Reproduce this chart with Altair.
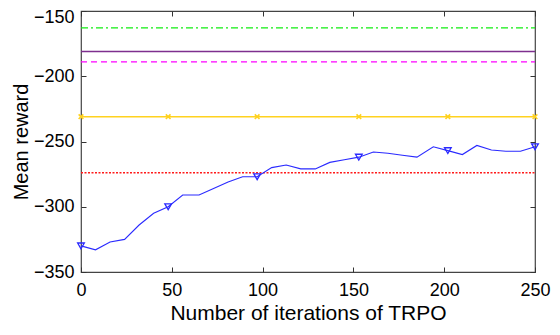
import altair as alt
import pandas as pd

# Blue learning curve (TRPO iterations vs mean reward)
iters = [0, 8, 16, 24, 32, 40, 48, 56, 65, 73, 81, 89, 97, 105, 113, 121,
         129, 137, 145, 153, 161, 169, 177, 185, 194, 202, 210, 218, 226, 234, 242, 250]
reward = [-330, -333, -327, -325, -314, -305, -300, -291, -291, -286, -281, -277,
          -277, -270, -268, -271, -271, -266, -264, -262, -258, -259, -260.5, -262,
          -254, -257, -260, -253, -256.5, -257.5, -257.5, -254]
marker_iters = [0, 48, 97, 153, 202, 250]

# Constant baselines
base_names = ["green", "purple", "magenta", "yellow", "red"]
base_values = [-163, -181, -189, -231, -274]
base_colors = ["#11ee11", "#7e2f8e", "#ff00ff", "#ffd21f", "#ff1a1a"]
base_dash = [[7, 3, 2, 3], [1, 0], [6, 4], [1, 0], [2, 1.5]]
base_width = [1.2, 1.6, 1.4, 1.6, 1.4]

x_ticks = [0, 50, 100, 150, 200, 250]
y_ticks = [-350, -300, -250, -200, -150]

FONT = "Liberation Sans"
xs = alt.Scale(domain=[0, 250], nice=False, zero=False)
ys = alt.Scale(domain=[-350, -150], nice=False, zero=False)

curve = pd.DataFrame({"x": iters, "y": reward})
markers = curve[curve["x"].isin(marker_iters)]

layers = []

# baselines
for n, v, c, d, w in zip(base_names, base_values, base_colors, base_dash, base_width):
    df = pd.DataFrame({"x": [0, 250], "y": [v, v]})
    layers.append(
        alt.Chart(df).mark_line(color=c, strokeDash=d, strokeWidth=w, clip=True).encode(
            x=alt.X("x:Q", scale=xs, axis=None), y=alt.Y("y:Q", scale=ys, axis=None))
    )
    if n == "yellow":
        mdf = pd.DataFrame({"x": marker_iters, "y": [v] * len(marker_iters)})
        layers.append(
            alt.Chart(mdf).mark_point(shape="M-1,-1L1,1M1,-1L-1,1", size=22, filled=False,
                                      color=c, strokeWidth=1.6, opacity=1).encode(
                x=alt.X("x:Q", scale=xs, axis=None), y=alt.Y("y:Q", scale=ys, axis=None))
        )

# blue curve
layers.append(
    alt.Chart(curve).mark_line(color="#2a2aff", strokeWidth=1.1).encode(
        x=alt.X("x:Q", scale=xs, axis=None), y=alt.Y("y:Q", scale=ys, axis=None))
)
layers.append(
    alt.Chart(markers).mark_point(shape="triangle-down", size=45, filled=False,
                                  color="#2a2aff", strokeWidth=1.3, opacity=1).encode(
        x=alt.X("x:Q", scale=xs, axis=None), y=alt.Y("y:Q", scale=ys, axis=None))
)

# label axes
lab = alt.Chart(curve).mark_point(opacity=0).encode(
    x=alt.X("x:Q", scale=xs, axis=alt.Axis(
        values=x_ticks, tickSize=0, domain=False, grid=False, labelFont=FONT,
        labelFontSize=18, labelColor="#000", labelPadding=9, title="Number of iterations of TRPO",
        titleFont=FONT, titleFontSize=21, titleFontWeight="normal", titleColor="#000",
        titlePadding=3, labelFlush=False)),
    y=alt.Y("y:Q", scale=ys, axis=alt.Axis(
        values=y_ticks[:-1], tickSize=0, domain=False, grid=False, labelFont=FONT,
        labelFontSize=18, labelColor="#000", labelPadding=7, title="Mean reward",
        titleFont=FONT, titleFontSize=20, titleFontWeight="normal", titleColor="#000",
        titlePadding=2, labelFlush=False)),
)

# top y label kept inside the page
lab_top = alt.Chart(curve).mark_point(opacity=0).encode(
    x=alt.X("x:Q", scale=xs, axis=None),
    y=alt.Y("y:Q", scale=ys, axis=alt.Axis(
        orient="left", values=y_ticks[-1:], tickSize=0, domain=False, grid=False, labelFont=FONT,
        labelFontSize=18, labelColor="#000", labelPadding=7, labelBaseline="top",
        labelOffset=-3, title=None, labelFlush=False)),
)

def tick_axis(orient_x, orient_y):
    return alt.Chart(curve).mark_point(opacity=0).encode(
        x=alt.X("x:Q", scale=xs, axis=alt.Axis(
            orient=orient_x, values=x_ticks, tickSize=5, offset=-5, domain=False, labels=False,
            grid=False, title=None, tickColor="#333", tickWidth=1)),
        y=alt.Y("y:Q", scale=ys, axis=alt.Axis(
            orient=orient_y, values=y_ticks, tickSize=5, offset=-5, domain=False, labels=False,
            grid=False, title=None, tickColor="#333", tickWidth=1)),
    )

chart = alt.layer(lab, lab_top, tick_axis("bottom", "left"), tick_axis("top", "right"), *layers).resolve_axis(
    x="independent", y="independent"
).properties(
    width=454, height=261,
    autosize=alt.AutoSizeParams(type="none"),
    padding={"left": 73, "top": 3, "right": 17, "bottom": 55},
).configure_view(stroke="#444", strokeWidth=1.2)

chart.save("out.html", embed_options={"renderer": "svg", "actions": False})
